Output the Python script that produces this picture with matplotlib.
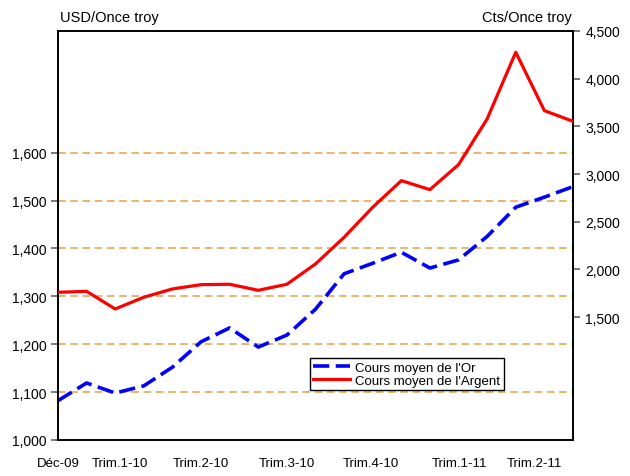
import matplotlib
matplotlib.use('Agg')
import matplotlib.pyplot as plt
from matplotlib.ticker import FuncFormatter

plt.rcParams['font.family'] = ['Liberation Sans', 'DejaVu Sans']

# monthly averages, Dec-09 .. Jun-11
months = list(range(19))
or_usd = [1082, 1119, 1098, 1113, 1152, 1205, 1234, 1194, 1219, 1273,
          1347, 1369, 1392, 1359, 1376, 1425, 1486, 1507, 1529]
argent_cts = [1761, 1771, 1586, 1709, 1796, 1841, 1845, 1782, 1845, 2058,
              2337, 2652, 2931, 2837, 3099, 3578, 4277, 3665, 3553]

x_label_pos = [0, 2.15, 5.0, 8.0, 10.95, 14.05, 16.65]
x_labels = ['Déc-09', 'Trim.1-10', 'Trim.2-10', 'Trim.3-10', 'Trim.4-10',
            'Trim.1-11', 'Trim.2-11']
left_ticks = [1000, 1100, 1200, 1300, 1400, 1500, 1600]
right_ticks = [1500, 2000, 2500, 3000, 3500, 4000, 4500]

fig = plt.figure(figsize=(6.3, 4.77), dpi=100)
ax = fig.add_axes([0.092, 0.0755, 0.8175, 0.8575])
ax2 = ax.twinx()

grid_color = '#E3A04A'
for v in left_ticks[1:]:
    ax.axhline(v, color=grid_color, lw=1.1, ls=(0, (5, 3)), zorder=1)

l1, = ax.plot(months, or_usd, color='#0000FF', lw=2.6,
              ls=(0, (4.5, 1.8)), zorder=3, label="Cours moyen de l'Or")
l2, = ax2.plot(months, argent_cts, color='#FF0000', lw=2.3,
               zorder=3, label="Cours moyen de l'Argent")

ax.set_xlim(0, 18)
ax.set_ylim(1000, 1854)
ax2.set_ylim(213, 4500)

fmt = FuncFormatter(lambda v, p: f'{v:,.0f}')
ax.set_yticks(left_ticks)
ax.yaxis.set_major_formatter(fmt)
ax2.set_yticks(right_ticks)
ax2.yaxis.set_major_formatter(fmt)

ax.set_xticks(x_label_pos)
ax.set_xticklabels(x_labels)
ax.tick_params(axis='x', length=0, pad=12, labelsize=9.5)
ax.tick_params(axis='y', length=5, color='#606060', width=1.2,
               labelsize=10, pad=3)
ax2.tick_params(axis='y', length=5, color='#606060', width=1.2,
                labelsize=10, pad=4)

for a in (ax, ax2):
    for s in a.spines.values():
        s.set_color('black')
        s.set_linewidth(1.2)

fig.text(0.095, 0.963, 'USD/Once troy', fontsize=10.5, ha='left', va='center')
fig.text(0.908, 0.963, 'Cts/Once troy', fontsize=10.5, ha='right', va='center')

leg = ax2.legend(handles=[l1, l2], loc='upper left',
                 bbox_to_anchor=(0.492, 0.2474), bbox_transform=fig.transFigure,
                 fontsize=9.5, frameon=True, fancybox=False, framealpha=1,
                 edgecolor='black', borderpad=0.25, labelspacing=0.1,
                 handlelength=2.8, handletextpad=0.4, borderaxespad=0)
leg.get_frame().set_linewidth(1.0)

fig.savefig('out.png', dpi=100)
